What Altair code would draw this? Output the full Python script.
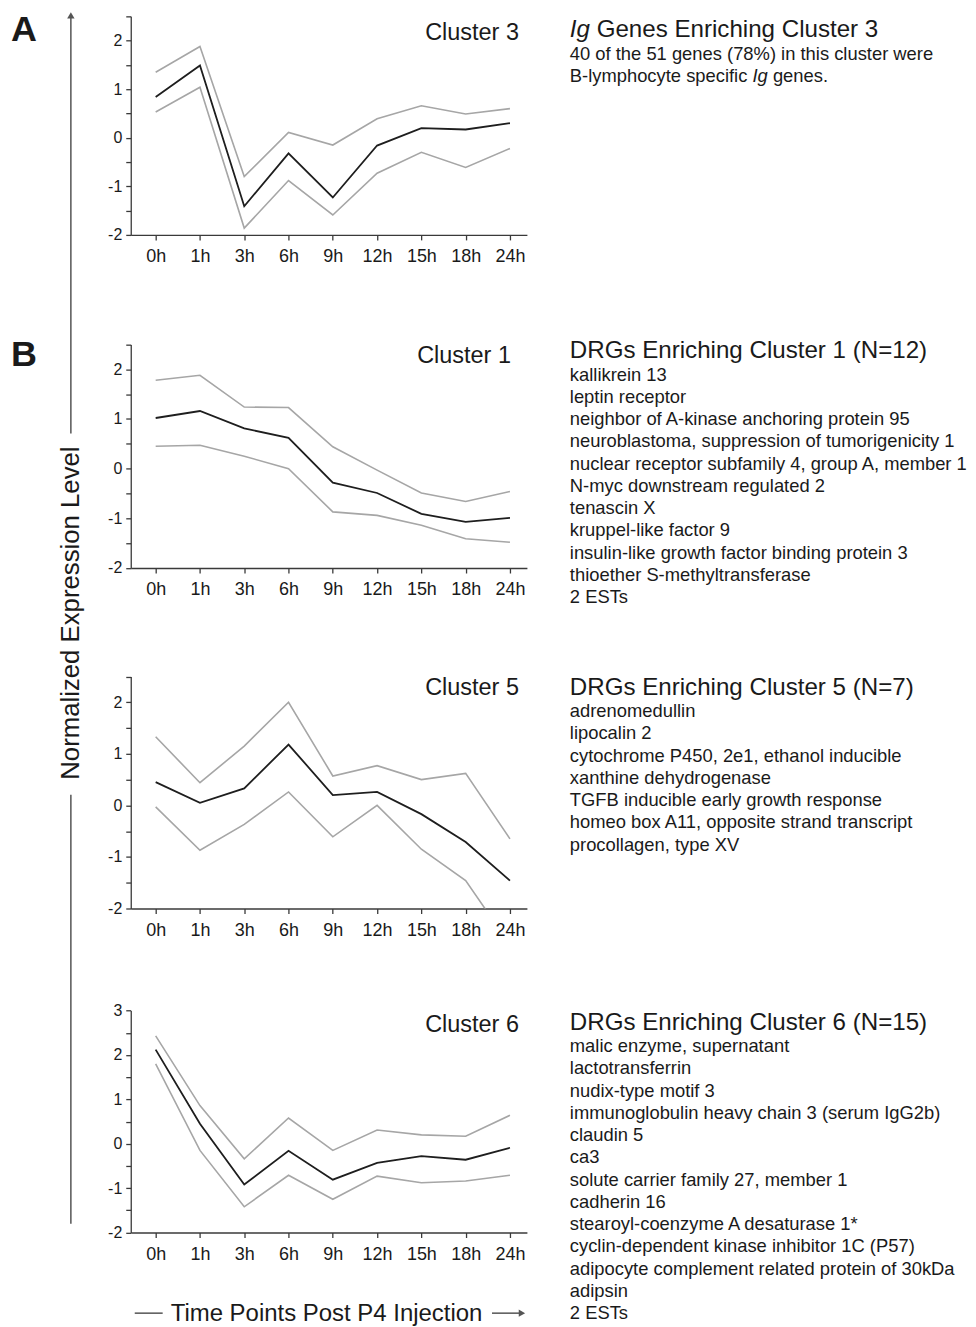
import altair as alt
import pandas as pd

times = ["0h", "1h", "3h", "6h", "9h", "12h", "15h", "18h", "24h"]

c3_mean = [0.84, 1.49, -1.41, -0.32, -1.23, -0.16, 0.20, 0.17, 0.30]
c3_upper = [1.35, 1.88, -0.80, 0.11, -0.15, 0.39, 0.66, 0.49, 0.60]
c3_lower = [0.53, 1.04, -1.86, -0.88, -1.59, -0.73, -0.30, -0.61, -0.22]

c1_mean = [1.02, 1.16, 0.81, 0.62, -0.28, -0.49, -0.91, -1.07, -0.99]
c1_upper = [1.78, 1.88, 1.24, 1.23, 0.44, -0.03, -0.49, -0.66, -0.46]
c1_lower = [0.45, 0.47, 0.25, 0.00, -0.87, -0.94, -1.14, -1.41, -1.48]

c5_mean = [0.45, 0.05, 0.33, 1.18, 0.20, 0.26, -0.17, -0.71, -1.46]
c5_upper = [1.33, 0.44, 1.15, 2.00, 0.57, 0.77, 0.50, 0.62, -0.65]
c5_lower = [-0.03, -0.87, -0.37, 0.26, -0.61, 0.00, -0.85, -1.46, -2.70]

c6_mean = [2.12, 0.45, -0.92, -0.16, -0.81, -0.43, -0.28, -0.36, -0.09]
c6_upper = [2.43, 0.86, -0.34, 0.58, -0.15, 0.31, 0.20, 0.17, 0.64]
c6_lower = [1.80, -0.15, -1.42, -0.71, -1.25, -0.73, -0.88, -0.84, -0.71]

ticks_a = [-2, -1.5, -1, -0.5, 0, 0.5, 1, 1.5, 2, 2.5]
ticks_b = [-2, -1.5, -1, -0.5, 0, 0.5, 1, 1.5, 2, 2.5, 3]

c3_text = ["40 of the 51 genes (78%) in this cluster were"]
c1_genes = ["kallikrein 13", "leptin receptor", "neighbor of A-kinase anchoring protein 95",
            "neuroblastoma, suppression of tumorigenicity 1",
            "nuclear receptor subfamily 4, group A, member 1", "N-myc downstream regulated 2",
            "tenascin X", "kruppel-like factor 9", "insulin-like growth factor binding protein 3",
            "thioether S-methyltransferase", "2 ESTs"]
c5_genes = ["adrenomedullin", "lipocalin 2", "cytochrome P450, 2e1, ethanol inducible",
            "xanthine dehydrogenase", "TGFB inducible early growth response",
            "homeo box A11, opposite strand transcript", "procollagen, type XV"]
c6_genes = ["malic enzyme, supernatant", "lactotransferrin", "nudix-type motif 3",
            "immunoglobulin heavy chain 3 (serum IgG2b)", "claudin 5", "ca3",
            "solute carrier family 27, member 1", "cadherin 16",
            "stearoyl-coenzyme A desaturase 1*", "cyclin-dependent kinase inhibitor 1C (P57)",
            "adipocyte complement related protein of 30kDa", "adipsin", "2 ESTs"]

FONT = "Liberation Sans"
TXT = "#1a1a1a"
AX = "#3a3a3a"
W = 397
TX = 440          # x of right-hand text column, relative to plot left
LH = 22.3         # line height of gene lists
LIST = 18.4
HEAD = 24.2
CL = 23.5
NOVIEW = alt.ViewBackground(stroke="transparent", strokeWidth=0, strokeOpacity=0)


def long_df(mean, upper, lower):
    rows = []
    for name, vals in (("upper", upper), ("lower", lower), ("mean", mean)):
        for t, v in zip(times, vals):
            rows.append({"time": t, "value": v, "series": name})
    return pd.DataFrame(rows)


def txt(text, x, y, size, **kw):
    props = dict(align="left", baseline="alphabetic", fontSize=size, font=FONT, color=TXT)
    props.update(kw)
    return alt.Chart(pd.DataFrame({"k": [0]})).mark_text(text=text, **props).encode(
        x=alt.value(x), y=alt.value(y))


def rule(x, y, x2=None, y2=None, color="#555555", width=1.5):
    enc = dict(x=alt.value(x), y=alt.value(y))
    if x2 is not None:
        enc["x2"] = alt.value(x2)
    if y2 is not None:
        enc["y2"] = alt.value(y2)
    return alt.Chart(pd.DataFrame({"k": [0]})).mark_rule(color=color, strokeWidth=width).encode(**enc)


def head(x, y, shape):
    return alt.Chart(pd.DataFrame({"k": [0]})).mark_point(
        shape=shape, filled=True, size=55, color="#555555", opacity=1).encode(
        x=alt.value(x), y=alt.value(y))


def panel(mean, upper, lower, ydom, yvals, height, gap, extra):
    """gap = empty space above the plot area inside this row's cell."""
    df = long_df(mean, upper, lower)
    x = alt.X("time:N", sort=times,
              scale=alt.Scale(type="point", padding=0.473, align=0.595),
              axis=alt.Axis(title=None, labelAngle=0, labelFontSize=18, labelPadding=8,
                            tickSize=5, domainColor=AX, tickColor=AX, labelColor=TXT,
                            domainWidth=1.3, tickWidth=1.3, grid=False, labelFont=FONT))
    y = alt.Y("value:Q",
              scale=alt.Scale(domain=ydom, nice=False, zero=False, range=[gap + height, gap]),
              axis=alt.Axis(title=None, values=yvals,
                            labelExpr="datum.value % 1 == 0 ? '' + datum.value : ''",
                            labelFontSize={"condition": {"test": "datum.value % 1 == 0",
                                                         "value": 16}, "value": 0},
                            labelPadding=4, tickSize=5, domainColor=AX,
                            tickColor=AX, labelColor=TXT, domainWidth=1.3, tickWidth=1.3,
                            grid=False, labelFont=FONT))
    base = alt.Chart(df)
    bounds = base.transform_filter("datum.series != 'mean'").mark_line(
        color="#a6a6a6", strokeWidth=1.6, clip=True).encode(x=x, y=y, detail="series:N")
    meanl = base.transform_filter("datum.series == 'mean'").mark_line(
        color="#1e1e1e", strokeWidth=1.8, clip=True).encode(x=x, y=y)
    return alt.layer(bounds, meanl, *extra).properties(width=W, height=gap + height,
                                                       view=NOVIEW)


# Row A (gap 0)
gA = 0
rowA = panel(c3_mean, c3_upper, c3_lower, [-2, 2.5], ticks_a, 219, gA, [
    txt("A", -120, gA + 25, 36, fontWeight="bold"),
    txt("Cluster 3", 389, gA + 23.8, CL, align="right"),
    txt("Ig", TX, gA + 20.8, HEAD, fontStyle="italic"),
    txt("Genes Enriching Cluster 3", TX + 26.9, gA + 20.8, HEAD),
    txt(c3_text[0], TX, gA + 43.8, LIST),
    txt("B-lymphocyte specific", TX, gA + 65.8, LIST),
    txt("Ig", TX + 183, gA + 65.8, LIST, fontStyle="italic"),
    txt("genes.", TX + 203.5, gA + 65.8, LIST),
    # long vertical axis arrow with label
    head(-60, gA - 1, "triangle-up"),
    rule(-60, gA - 1, y2=gA + 418),
    txt("Normalized Expression Level", -60, gA + 598, 25.8, angle=270, align="center",
        baseline="middle"),
    rule(-60, gA + 780, y2=gA + 1210),
])

gB1 = 109.8
rowB1 = panel(c1_mean, c1_upper, c1_lower, [-2, 2.5], ticks_a, 224, gB1, [
    txt("B", -120, gB1 + 22, 36, fontWeight="bold"),
    txt("Cluster 1", 381, gB1 + 19, CL, align="right"),
    txt("DRGs Enriching Cluster 1 (N=12)", TX, gB1 + 14, HEAD),
    txt(c1_genes, TX, gB1 + 36.3, LIST, lineHeight=LH),
])

gB5 = 108.5
rowB5 = panel(c5_mean, c5_upper, c5_lower, [-2, 2.5], ticks_a, 232.5, gB5, [
    txt("Cluster 5", 389, gB5 + 18.5, CL, align="right"),
    txt("DRGs Enriching Cluster 5 (N=7)", TX, gB5 + 18.2, HEAD),
    txt(c5_genes, TX, gB5 + 40.8, LIST, lineHeight=LH),
])

gB6 = 102.3
rowB6 = panel(c6_mean, c6_upper, c6_lower, [-2, 3], ticks_b, 222.4, gB6, [
    txt("Cluster 6", 389, gB6 + 21.7, CL, align="right"),
    txt("DRGs Enriching Cluster 6 (N=15)", TX, gB6 + 19, HEAD),
    txt(c6_genes, TX, gB6 + 41.7, LIST, lineHeight=LH),
    rule(4, gB6 + 303.2, x2=32),
    txt("Time Points Post P4 Injection", 40, gB6 + 310.7, 24),
    rule(362, gB6 + 303.2, x2=390),
    head(392, gB6 + 303.2, "triangle-right"),
])

chart = alt.vconcat(rowA, rowB1, rowB5, rowB6, spacing=0, bounds="flush").properties(
    padding={"left": 3, "top": 2, "right": 0, "bottom": 0}
).configure_view(stroke="transparent", strokeWidth=0, strokeOpacity=0).configure(font=FONT)

chart.save("out.html", embed_options={"renderer": "svg", "actions": False})
